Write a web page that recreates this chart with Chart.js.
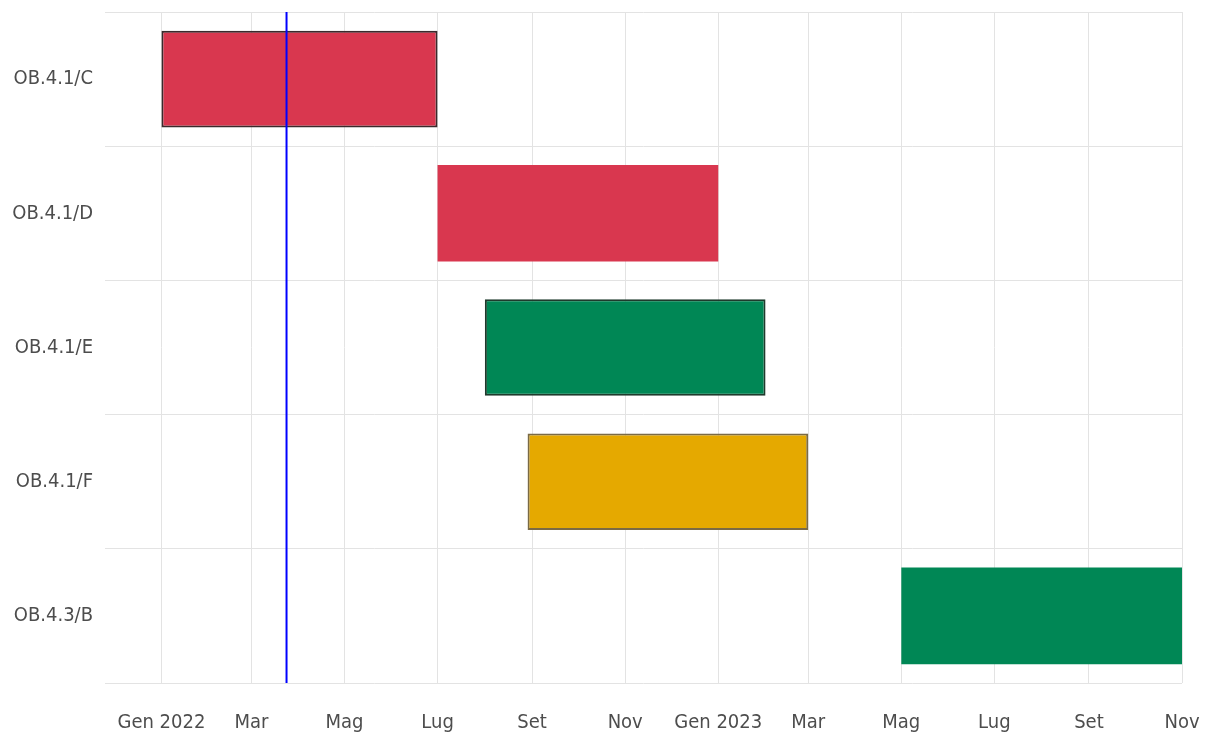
<!DOCTYPE html>
<html>
<head>
<meta charset="utf-8">
<script src="https://cdn.jsdelivr.net/npm/chart.js@4/dist/chart.umd.min.js"></script>
<style>
  html, body { margin: 0; padding: 0; background: #ffffff; }
  #wrap { width: 1208px; height: 743px; }
</style>
</head>
<body>
<div id="wrap"><canvas id="c" width="1208" height="743"></canvas></div>
<script>
// ---- data ----
const categories = ['OB.4.1/C', 'OB.4.1/D', 'OB.4.1/E', 'OB.4.1/F', 'OB.4.3/B'];
const startDates = ['2022-01-01', '2022-07-01', '2022-08-01', '2022-08-29', '2023-05-01'];
const endDates   = ['2022-07-01', '2023-01-01', '2023-02-01', '2023-03-01', '2023-11-01'];
const barColors  = ['#d9374f', '#d9374f', '#008755', '#e5a900', '#008755'];
const barBorders = ['#3a2a2c', '#d9374f', '#1e3a2c', '#7a6a45', '#008755'];
const barBorderWidths = [2, 0, 2, 2, 0];
const tickDates  = ['2022-01-01', '2022-03-01', '2022-05-01', '2022-07-01', '2022-09-01', '2022-11-01',
                    '2023-01-01', '2023-03-01', '2023-05-01', '2023-07-01', '2023-09-01', '2023-11-01'];
const tickLabels = ['Gen 2022', 'Mar', 'Mag', 'Lug', 'Set', 'Nov', 'Gen 2023', 'Mar', 'Mag', 'Lug', 'Set', 'Nov'];
const axisMinDate = '2021-11-25';
const axisMaxDate = '2023-11-01';
const todayDate = '2022-03-24';

const FONT = "'DejaVu Sans Condensed', 'Liberation Sans Narrow', sans-serif";
const ms = d => Date.parse(d);

const todayLine = {
  id: 'todayLine',
  afterDatasetsDraw(chart) {
    const x = chart.scales.x.getPixelForValue(ms(todayDate));
    const a = chart.chartArea;
    const ctx = chart.ctx;
    ctx.save();
    ctx.strokeStyle = '#0000ff';
    ctx.lineWidth = 2;
    ctx.beginPath();
    ctx.moveTo(x, a.top);
    ctx.lineTo(x, a.bottom);
    ctx.stroke();
    ctx.restore();
  }
};

new Chart(document.getElementById('c'), {
  type: 'bar',
  data: {
    labels: categories,
    datasets: [{
      data: startDates.map((s, i) => [ms(s), ms(endDates[i])]),
      backgroundColor: barColors,
      borderColor: barBorders,
      borderWidth: barBorderWidths,
      borderSkipped: false
    }]
  },
  options: {
    indexAxis: 'y',
    responsive: false,
    devicePixelRatio: 1,
    animation: false,
    layout: { padding: { top: 12, right: 26, left: 0, bottom: 0 } },
    plugins: { legend: { display: false }, tooltip: { enabled: false } },
    scales: {
      x: {
        type: 'linear',
        min: ms(axisMinDate),
        max: ms(axisMaxDate),
        afterBuildTicks(axis) { axis.ticks = tickDates.map(d => ({ value: ms(d) })); },
        afterFit(axis) { axis.height = 60; axis.paddingLeft = 0; axis.paddingRight = 0; },
        grid: { color: '#e3e3e3', drawTicks: false },
        border: { display: false },
        ticks: {
          autoSkip: false, maxRotation: 0, padding: 28,
          color: '#4d4d4d', font: { family: FONT, size: 20 },
          callback: (v, i) => tickLabels[i]
        }
      },
      y: {
        afterFit(axis) { axis.width = 105; axis.paddingTop = 0; axis.paddingBottom = 0; },
        grid: { color: '#e3e3e3', drawTicks: false, offset: true },
        border: { display: false },
        ticks: { padding: 12, color: '#4d4d4d', font: { family: FONT, size: 20 } }
      }
    }
  },
  plugins: [todayLine]
});
</script>
</body>
</html>
